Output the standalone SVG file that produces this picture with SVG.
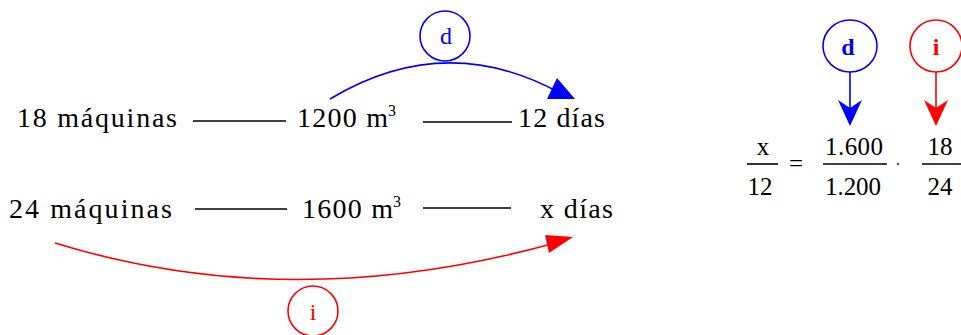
<svg xmlns="http://www.w3.org/2000/svg" width="961" height="335" viewBox="0 0 961 335">
<style>
text{font-family:"Liberation Serif","Times New Roman",serif;fill:#000}
.t{font-size:28px}
.s{font-size:16px}
.f{font-size:25px;text-anchor:middle}
.bar{stroke:#000;stroke-width:1.6;fill:none}
.blue{stroke:#0000ff;fill:none;stroke-width:1.6}
.red{stroke:#ff0000;fill:none;stroke-width:1.6}
.lb{font-size:24px;text-anchor:middle}
.bb{font-size:24px;text-anchor:middle;font-weight:bold}
</style>
<g id="row1">
<text class="t" x="17" y="127" textLength="160" lengthAdjust="spacing">18 máquinas</text>
<line class="bar" x1="193" y1="121" x2="286" y2="121"/>
<text class="t" x="297" y="127" textLength="91" lengthAdjust="spacing">1200 m</text>
<text class="s" x="388" y="116">3</text>
<line class="bar" x1="423" y1="122" x2="512" y2="122"/>
<text class="t" x="518" y="127" textLength="87" lengthAdjust="spacing">12 días</text>
</g>
<g id="row2">
<text class="t" x="9" y="218" textLength="163" lengthAdjust="spacing">24 máquinas</text>
<line class="bar" x1="195" y1="209" x2="287" y2="209"/>
<text class="t" x="302" y="218" textLength="91" lengthAdjust="spacing">1600 m</text>
<text class="s" x="393" y="207">3</text>
<line class="bar" x1="423" y1="208" x2="511" y2="208"/>
<text class="t" x="540" y="218" textLength="73" lengthAdjust="spacing">x días</text>
</g>
<g id="node-d">
<circle class="blue" cx="445" cy="36" r="25"/>
<text class="lb" x="446" y="44" style="fill:#0000ff">d</text>
</g>
<g id="node-i">
<circle class="red" cx="313" cy="311" r="25"/>
<text class="lb" x="313" y="320" style="fill:#ff0000">i</text>
</g>
<g id="formula">
<text class="f" x="763" y="155">x</text>
<line class="bar" x1="747" y1="164" x2="778" y2="164"/>
<text class="f" x="760" y="195">12</text>
<text class="f" x="796" y="172">=</text>
<text class="f" x="854" y="155" textLength="58" lengthAdjust="spacing">1.600</text>
<line class="bar" x1="823" y1="164" x2="887" y2="164"/>
<text class="f" x="853" y="195" textLength="56" lengthAdjust="spacing">1.200</text>
<circle cx="898" cy="164" r="1" fill="#000"/>
<text class="f" x="940" y="155">18</text>
<line class="bar" x1="922" y1="164" x2="961" y2="164"/>
<text class="f" x="940" y="195">24</text>
</g>
<g id="node-d2">
<ellipse class="blue" cx="850" cy="46" rx="27" ry="26"/>
<text class="bb" x="848" y="55" style="fill:#0000ff">d</text>
</g>
<g id="node-i2">
<ellipse class="red" cx="936" cy="46" rx="26" ry="26"/>
<text class="bb" x="936" y="55" style="fill:#ff0000">i</text>
</g>
<g id="connectors">
<path class="blue" d="M330 99 Q445 30 560 93"/>
<polygon points="547,99 557,78 575,99" fill="#0000ff"/>
<path class="red" d="M55 243 Q292 316 555 243"/>
<polygon points="545,235 573,237 549,253" fill="#ff0000"/>
<line class="blue" x1="850" y1="72" x2="850" y2="108"/>
<polygon points="850,126 838,100 850,108 862,100" fill="#0000ff"/>
<line class="red" x1="936" y1="72" x2="936" y2="108"/>
<polygon points="936,126 924,100 936,108 948,100" fill="#ff0000"/>
</g>
</svg>
